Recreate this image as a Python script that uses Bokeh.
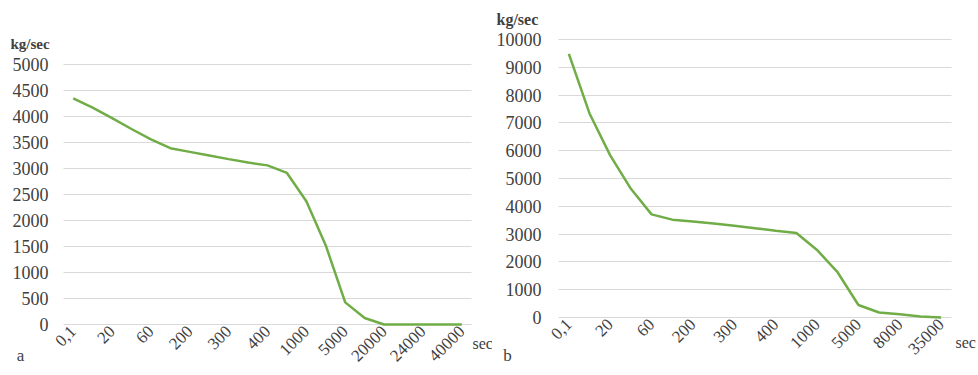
import math
from bokeh.plotting import figure
from bokeh.layouts import row
from bokeh.models import Range1d, FixedTicker, Label
from bokeh.embed import file_html
from bokeh.resources import INLINE

# ---- data ----
left_tick_labels = ["0,1", "20", "60", "200", "300", "400", "1000", "5000", "20000", "24000", "40000"]
left_flow = [4350, 4170, 3970, 3760, 3560, 3390, 3320, 3250, 3180, 3115, 3060,
             2915, 2370, 1520, 425, 125, 0, 0, 0, 0, 0]
right_tick_labels = ["0,1", "20", "60", "200", "300", "400", "1000", "5000", "8000", "35000"]
right_flow = [9480, 7340, 5830, 4630, 3710, 3520, 3450, 3380, 3300, 3210, 3120,
              3040, 2430, 1620, 450, 180, 120, 40, 0]
left_yticks = list(range(0, 5001, 500))
right_yticks = list(range(0, 10001, 1000))

FONT = "Liberation Serif"
TXT = "#404040"
GREEN = "#70AD47"
GRID = "#D9D9D9"


class Chart:
    """Figure whose frame covers the whole canvas; the plot area (pl..pr, pt..pb in
    canvas pixels) is mapped to the category / value extent."""

    def __init__(self, values, tick_labels, yticks, width, height, pl, pr, pt, pb, ystand):
        n = len(values)
        self.x0, self.x1 = -0.5, n - 0.5
        self.y0, self.y1 = yticks[0], yticks[-1]
        self.pl, self.pr, self.pt, self.pb = pl, pr, pt, pb
        kx = (pr - pl) / (self.x1 - self.x0)
        ky = (pb - pt) / (self.y1 - self.y0)
        self.kx, self.ky = kx, ky
        xr = Range1d(self.x0 - pl / kx, self.x1 + (width - pr) / kx)
        yr = Range1d(self.y0 - (height - pb) / ky, self.y1 + pt / ky)
        p = figure(width=width, height=height, output_backend="svg", toolbar_location=None,
                   title=None, x_range=xr, y_range=yr,
                   min_border=0, min_border_left=0, min_border_right=0,
                   min_border_top=0, min_border_bottom=0)
        p.frame_align = False
        p.outline_line_color = None
        p.background_fill_color = "white"
        p.border_fill_color = "white"
        p.xgrid.visible = False

        # gridlines limited to the plot area
        p.ygrid.ticker = FixedTicker(ticks=yticks)
        p.ygrid.grid_line_color = GRID
        p.ygrid.grid_line_width = 1.2
        try:
            p.ygrid.cross_bounds = (self.x0, self.x1)
        except AttributeError:
            p.ygrid.visible = False
            p.segment(x0=[self.x0] * len(yticks), y0=yticks, x1=[self.x1] * len(yticks),
                      y1=yticks, line_color=GRID, line_width=1.2)

        xs = list(range(n))
        p.line(xs, values, line_color=GREEN, line_width=2.5)

        tick_pos = list(range(0, n, 2))
        p.xaxis.ticker = FixedTicker(ticks=tick_pos)
        p.xaxis.major_label_overrides = {t: lab for t, lab in zip(tick_pos, tick_labels)}
        p.xaxis.major_label_orientation = math.pi / 4
        p.xaxis.fixed_location = self.y0
        p.yaxis.ticker = FixedTicker(ticks=yticks)
        p.yaxis.fixed_location = self.x0
        for ax in (p.xaxis, p.yaxis):
            ax.axis_line_color = None
            ax.major_tick_line_color = None
            ax.minor_tick_line_color = None
            ax.major_tick_out = 0
            ax.major_tick_in = 0
            ax.major_label_text_font = FONT
            ax.major_label_text_color = TXT
        p.yaxis.major_label_text_font_size = "18px"
        p.yaxis.major_label_standoff = ystand
        p.xaxis.major_label_text_font_size = "17px"
        p.xaxis.major_label_standoff = 4
        self.p = p

    def text(self, px, py, text, size, bold=False, align="left"):
        x = self.x0 + (px - self.pl) / self.kx
        y = self.y0 + (self.pb - py) / self.ky
        self.p.add_layout(Label(x=x, y=y, text=text, text_font=FONT, text_font_size=size,
                                text_font_style="bold" if bold else "normal",
                                text_align=align, text_baseline="alphabetic",
                                text_color=TXT))


# left chart: canvas 0..492, plot area 63..471 x 64..324
c1 = Chart(left_flow, left_tick_labels, left_yticks, 492, 375, 63, 471, 64, 324, 15)
c1.text(10, 43, "kg/sec", "15px", bold=True)
c1.text(20, 355, "a", "17px", align="center")
c1.text(472, 343, "sec", "16px")

# right chart: canvas starts at page x=492, plot area 558..951 x 39..317 (page)
c2 = Chart(right_flow, right_tick_labels, right_yticks, 486, 375, 66, 459, 39, 317, 17)
c2.text(4, 19, "kg/sec", "16px", bold=True)
c2.text(15, 355, "b", "17px", align="center")
c2.text(463, 342, "sec", "16px")

layout = row(c1.p, c2.p)
open("out.html", "w").write(file_html(layout, INLINE))
